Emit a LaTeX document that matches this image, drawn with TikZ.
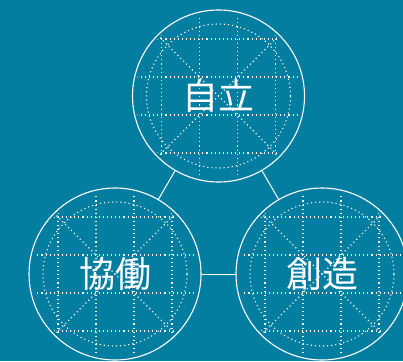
\documentclass[tikz,border=0pt]{standalone}
\usepackage{fontspec}
\newfontfamily\jpfont{Noto Sans CJK JP}
\definecolor{bg}{RGB}{4,126,160}
\begin{document}
\begin{tikzpicture}[x=1pt,y=-1pt,
  ring/.style={circle,draw=white,line width=1.1pt,minimum size=172pt,inner sep=0pt,text=white,font=\jpfont\fontsize{36}{36}\selectfont},
  link/.style={draw=white,line width=1pt},
  guide/.style={draw=white,line width=1.1pt,dash pattern=on 1.1pt off 3pt}]
\fill[bg] (0,0) rectangle (403,361);
\useasboundingbox (0,0) rectangle (403,361);
\node[ring] (top) at (218.5,96) {自立};
\node[ring] (left) at (115,274) {協働};
\node[ring] (right) at (322,274) {創造};
\foreach \n in {top,left,right}{
  \begin{scope}[shift={(\n.center)}]
    \clip (0,0) circle[radius=83pt];
    \draw[guide] (0,0) circle[radius=72pt];
    \draw[guide] (-57,-90) -- (-57,90);
    \draw[guide] (57,-90) -- (57,90);
    \draw[guide] (-90,-57) -- (90,-57);
    \draw[guide] (-90,57) -- (90,57);
    \draw[guide] (-19,-90) -- (-19,90);
    \draw[guide] (19,-90) -- (19,90);
    \draw[guide] (-90,-19) -- (90,-19);
    \draw[guide] (-90,19) -- (90,19);
    \draw[guide] (-70,-70) -- (70,70);
    \draw[guide] (-70,70) -- (70,-70);
  \end{scope}
}
\draw[link] (top) -- (left);
\draw[link] (top) -- (right);
\draw[link] (left) -- (right);
\end{tikzpicture}
\end{document}
